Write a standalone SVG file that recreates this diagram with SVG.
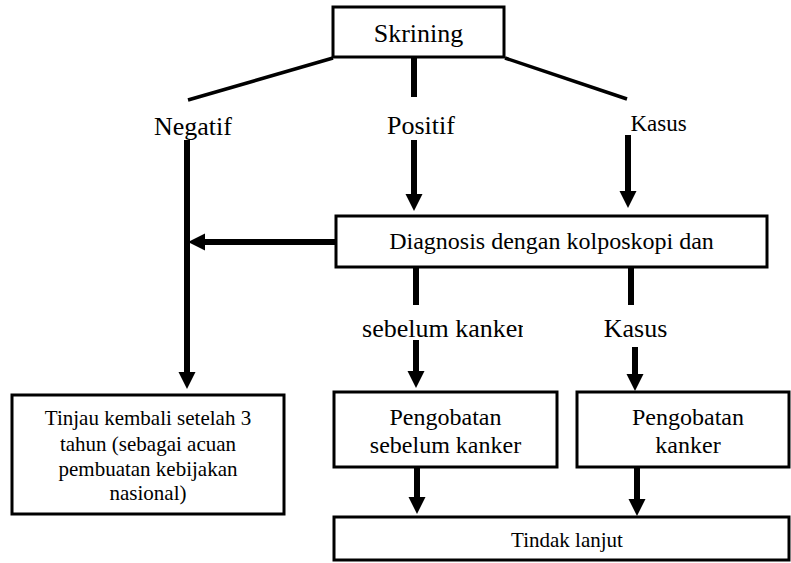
<svg xmlns="http://www.w3.org/2000/svg" width="791" height="563" viewBox="0 0 791 563">
  <style>
    .box { fill: #fff; stroke: #000; stroke-width: 3; }
    .t { font-family: "Liberation Serif", "Times New Roman", serif; fill: #000; text-anchor: middle; }
    .thick { stroke: #000; stroke-width: 6; fill: none; }
    .thin { stroke: #000; stroke-width: 3.5; fill: none; }
    .arrow { stroke: #000; stroke-width: 6; fill: none; marker-end: url(#head); }
  </style>
  <defs>
    <marker id="head" markerUnits="userSpaceOnUse" markerWidth="18" markerHeight="18" refX="0" refY="8.5" orient="auto">
      <path d="M0,0 L17,8.5 L0,17 Z" fill="#000"/>
    </marker>
    <clipPath id="labelClip">
      <rect x="340" y="300" width="183" height="50"/>
    </clipPath>
  </defs>
  <rect width="791" height="563" fill="#fff"/>

  <g id="connectors">
    <!-- branches out of Skrining -->
    <line class="thin" x1="333" y1="58" x2="188" y2="100"/>
    <line class="thick" x1="414" y1="57" x2="414" y2="97"/>
    <line class="thin" x1="505" y1="58" x2="627" y2="99"/>
    <!-- Negatif down to review box -->
    <line class="arrow" x1="187" y1="140" x2="187" y2="372"/>
    <!-- Positif and Kasus into diagnosis -->
    <line class="arrow" x1="414" y1="140" x2="414" y2="194"/>
    <line class="arrow" x1="628" y1="135" x2="628" y2="191"/>
    <!-- diagnosis back to Negatif line -->
    <line class="arrow" x1="336" y1="242" x2="205" y2="242"/>
    <!-- diagnosis outcomes -->
    <line class="thick" x1="416" y1="267" x2="416" y2="305"/>
    <line class="thick" x1="631" y1="267" x2="631" y2="305"/>
    <line class="arrow" x1="416" y1="340" x2="416" y2="371"/>
    <line class="arrow" x1="635" y1="347" x2="635" y2="374"/>
    <!-- treatments to follow-up -->
    <line class="arrow" x1="417" y1="467" x2="417" y2="497"/>
    <line class="arrow" x1="637" y1="467" x2="637" y2="499"/>
  </g>

  <g id="skrining">
    <rect class="box" x="333" y="7" width="171" height="50"/>
    <text class="t" x="418.5" y="42" font-size="26">Skrining</text>
  </g>

  <g id="negatif">
    <text class="t" x="193" y="135" font-size="26">Negatif</text>
  </g>

  <g id="positif">
    <text class="t" x="421" y="134" font-size="26">Positif</text>
  </g>

  <g id="kasus-top">
    <text class="t" x="658.5" y="131" font-size="23">Kasus</text>
  </g>

  <g id="diagnosis">
    <rect class="box" x="336" y="216" width="431" height="51"/>
    <text class="t" x="551.5" y="249" font-size="24">Diagnosis dengan kolposkopi dan</text>
  </g>

  <g id="sebelum-kanker">
    <text class="t" x="444" y="337" font-size="26" clip-path="url(#labelClip)">sebelum kanker</text>
  </g>

  <g id="kasus-mid">
    <text class="t" x="635.5" y="337" font-size="26">Kasus</text>
  </g>

  <g id="tinjau">
    <rect class="box" x="12" y="395" width="272" height="119" stroke-width="3.5"/>
    <text class="t" x="148" y="425" font-size="21">Tinjau kembali setelah 3</text>
    <text class="t" x="148" y="451" font-size="21">tahun (sebagai acuan</text>
    <text class="t" x="148" y="476" font-size="21">pembuatan kebijakan</text>
    <text class="t" x="148" y="500" font-size="21">nasional)</text>
  </g>

  <g id="pengobatan-sebelum">
    <rect class="box" x="334" y="392" width="223" height="75"/>
    <text class="t" x="445.5" y="425" font-size="24">Pengobatan</text>
    <text class="t" x="445.5" y="453" font-size="24">sebelum kanker</text>
  </g>

  <g id="pengobatan-kanker">
    <rect class="box" x="577" y="392" width="212" height="75"/>
    <text class="t" x="688" y="425" font-size="24">Pengobatan</text>
    <text class="t" x="688" y="453" font-size="24">kanker</text>
  </g>

  <g id="tindak-lanjut">
    <rect class="box" x="334" y="517" width="455" height="43"/>
    <text class="t" x="567" y="547" font-size="21">Tindak lanjut</text>
  </g>
</svg>
